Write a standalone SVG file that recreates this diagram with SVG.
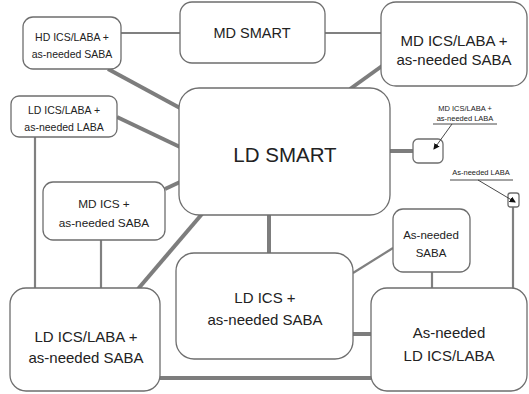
<svg xmlns="http://www.w3.org/2000/svg" width="529" height="394" viewBox="0 0 529 394">
<defs>
<style>
.n{fill:#fff;stroke:#6e6e6e;stroke-width:1.3}
.t{font-family:"Liberation Sans",Arial,sans-serif;fill:#222;text-anchor:middle}
.thick{stroke:#7d7d7d;stroke-width:4;fill:none}
.thin{stroke:#808080;stroke-width:2.2;fill:none}
.lead{stroke:#333;stroke-width:0.9;fill:none}
</style>
<marker id="ah" viewBox="0 0 6 6" refX="5" refY="3" markerWidth="7" markerHeight="7" orient="auto"><path d="M0,0L6,3L0,6z" fill="#111"/></marker>
</defs>
<rect width="529" height="394" fill="#fff"/>
<g id="connectors">
<line class="thin" x1="121" y1="33" x2="180" y2="33"/>
<line class="thin" x1="325" y1="33" x2="381" y2="33"/>
<line class="thick" x1="108" y1="69" x2="180" y2="108"/>
<line class="thick" x1="117" y1="117" x2="180" y2="147"/>
<line class="thin" x1="35" y1="137" x2="35" y2="288"/>
<line class="thick" x1="165" y1="189" x2="180" y2="182"/>
<line class="thin" x1="101" y1="240" x2="101" y2="288"/>
<line class="thick" x1="202" y1="214" x2="138" y2="289"/>
<line class="thick" x1="350" y1="89" x2="382" y2="66"/>
<line class="thick" x1="269" y1="215" x2="269" y2="253"/>
<line class="thick" x1="390" y1="151" x2="413" y2="151"/>
<line class="thin" x1="353" y1="273" x2="393" y2="248"/>
<line class="thin" x1="432" y1="272" x2="432" y2="288"/>
<line class="thick" x1="353" y1="334" x2="371" y2="334"/>
<line class="thick" x1="160" y1="378" x2="371" y2="378"/>
<line class="thin" x1="513" y1="207" x2="513" y2="288"/>
</g>
<g id="hd-ics-laba">
<rect class="n" x="23" y="17" width="98" height="52" rx="10"/>
<text class="t" x="72" y="41" font-size="10.5">HD ICS/LABA +</text>
<text class="t" x="72" y="58" font-size="10.5">as-needed SABA</text>
</g>
<g id="md-smart">
<rect class="n" x="180" y="2" width="145" height="61" rx="12"/>
<text class="t" x="252" y="38" font-size="14.5">MD SMART</text>
</g>
<g id="md-ics-laba-saba">
<rect class="n" x="381" y="2" width="146" height="84" rx="15"/>
<text class="t" x="454" y="46" font-size="15">MD ICS/LABA +</text>
<text class="t" x="454" y="65" font-size="15">as-needed SABA</text>
</g>
<g id="ld-ics-laba-laba">
<rect class="n" x="11" y="96" width="106" height="41" rx="8"/>
<text class="t" x="64" y="114" font-size="10.5">LD ICS/LABA +</text>
<text class="t" x="64" y="131" font-size="10.5">as-needed LABA</text>
</g>
<g id="ld-smart">
<rect class="n" x="179" y="88" width="211" height="127" rx="20"/>
<text class="t" x="285" y="162" font-size="20.5">LD SMART</text>
</g>
<g id="md-ics-saba">
<rect class="n" x="43" y="182" width="122" height="58" rx="10"/>
<text class="t" x="104" y="208" font-size="11.8">MD ICS +</text>
<text class="t" x="104" y="227" font-size="11.8">as-needed SABA</text>
</g>
<g id="ld-ics-laba-saba">
<rect class="n" x="10" y="288" width="150" height="103" rx="16"/>
<text class="t" x="86" y="342" font-size="15">LD ICS/LABA +</text>
<text class="t" x="86" y="363" font-size="15">as-needed SABA</text>
</g>
<g id="ld-ics-saba">
<rect class="n" x="176" y="253" width="177" height="106" rx="18"/>
<text class="t" x="265" y="303" font-size="15">LD ICS +</text>
<text class="t" x="265" y="325" font-size="15">as-needed SABA</text>
</g>
<g id="as-needed-saba">
<rect class="n" x="393" y="209" width="77" height="63" rx="10"/>
<text class="t" x="431" y="239" font-size="11.5">As-needed</text>
<text class="t" x="431" y="257" font-size="11.5">SABA</text>
</g>
<g id="as-needed-ld-ics-laba">
<rect class="n" x="371" y="288" width="156" height="103" rx="16"/>
<text class="t" x="449" y="338" font-size="15">As-needed</text>
<text class="t" x="449" y="361" font-size="15">LD ICS/LABA</text>
</g>
<g id="md-ics-laba-laba">
<rect class="n" x="413" y="139" width="30" height="24" rx="5"/>
<text class="t" x="465" y="111" font-size="7.5">MD ICS/LABA +</text>
<text class="t" x="465" y="121" font-size="7.5">as-needed LABA</text>
<line class="lead" x1="433" y1="124" x2="497" y2="124"/>
<line class="lead" x1="452" y1="124" x2="434" y2="149" marker-end="url(#ah)"/>
</g>
<g id="as-needed-laba">
<rect class="n" x="508" y="193" width="11" height="14" rx="2.5"/>
<text class="t" x="481" y="175" font-size="7.5">As-needed LABA</text>
<line class="lead" x1="450" y1="180" x2="513" y2="180"/>
<line class="lead" x1="478" y1="180" x2="515" y2="202" marker-end="url(#ah)"/>
</g>
</svg>
